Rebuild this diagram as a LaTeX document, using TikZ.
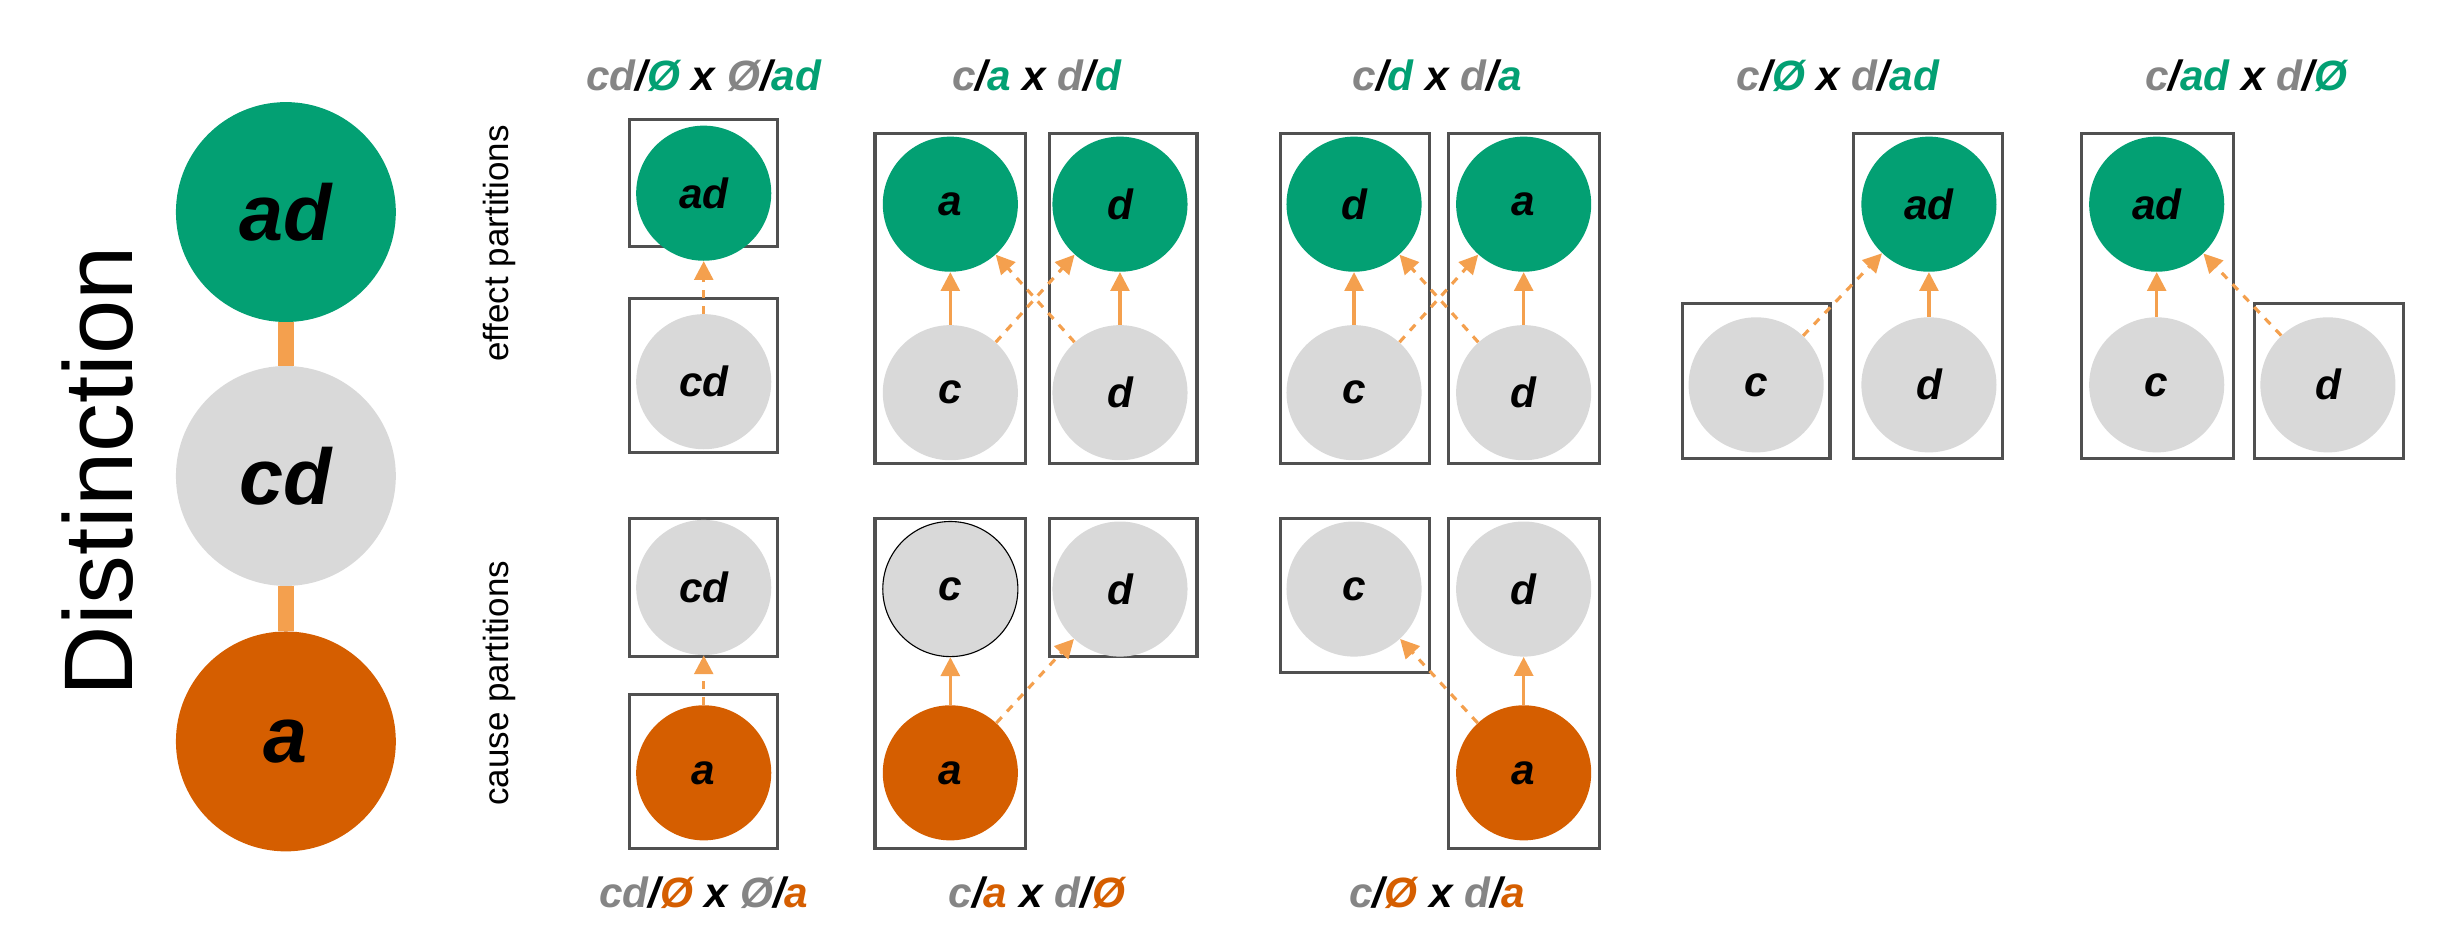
\documentclass[tikz,border=0pt]{standalone}
\usepackage{fontspec}
\setmainfont{Liberation Sans}
\usetikzlibrary{arrows.meta}
\definecolor{grn}{HTML}{03A073}
\definecolor{org}{HTML}{D55E00}
\definecolor{gry}{HTML}{D9D9D9}
\definecolor{arr}{HTML}{F4A04E}
\definecolor{tg}{HTML}{858585}
\definecolor{bx}{HTML}{505050}
\begin{document}
\begin{tikzpicture}[x=0.03cm,y=-0.03cm,
  c/.style={circle,minimum size=2.58cm,inner sep=0pt,font=\fontsize{23}{26}\selectfont\bfseries\itshape},
  big/.style={circle,minimum size=4.2cm,inner sep=0pt,font=\fontsize{43}{48}\selectfont\bfseries\itshape},
  G/.style={fill=grn}, O/.style={fill=org}, Y/.style={fill=gry},
  box/.style={draw=bx,line width=0.06cm},
  sol/.style={draw=arr,line width=0.06cm,-{Triangle[length=0.36cm,width=0.36cm]}},
  dsh/.style={sol,dash pattern=on 0.15cm off 0.15cm},
  ttl/.style={font=\fontsize{23}{26}\selectfont\bfseries\itshape},
  lab/.style={rotate=90,font=\fontsize{19}{22}\selectfont}]
\useasboundingbox (0,0) rectangle (1568,593);
% left distinction
\node[rotate=90,font=\fontsize{53}{58}\selectfont] (dist) at (62,300) {Distinction};
\node[big,G] (Lad) at (182,135) {ad};
\node[big,Y] (Lcd) at (182,303) {cd};
\node[big,O] (La) at (182,472) {a};
\draw[arr,line width=0.3cm] (Lad) -- (Lcd) (Lcd) -- (La);
\node[lab] (ep) at (318,155) {effect partitions};
\node[lab] (cp) at (318,435) {cause partitions};
% titles
\node[ttl] (t1) at (448,48) {\textcolor{tg}{cd}/\textcolor{grn}{Ø} x \textcolor{tg}{Ø}/\textcolor{grn}{ad}};
\node[ttl] (t2) at (660,48) {\textcolor{tg}{c}/\textcolor{grn}{a} x \textcolor{tg}{d}/\textcolor{grn}{d}};
\node[ttl] (t3) at (915,48) {\textcolor{tg}{c}/\textcolor{grn}{d} x \textcolor{tg}{d}/\textcolor{grn}{a}};
\node[ttl] (t4) at (1170,48) {\textcolor{tg}{c}/\textcolor{grn}{Ø} x \textcolor{tg}{d}/\textcolor{grn}{ad}};
\node[ttl] (t5) at (1430,48) {\textcolor{tg}{c}/\textcolor{grn}{ad} x \textcolor{tg}{d}/\textcolor{grn}{Ø}};
\node[ttl] (b1) at (448,568) {\textcolor{tg}{cd}/\textcolor{org}{Ø} x \textcolor{tg}{Ø}/\textcolor{org}{a}};
\node[ttl] (b2) at (660,568) {\textcolor{tg}{c}/\textcolor{org}{a} x \textcolor{tg}{d}/\textcolor{org}{Ø}};
\node[ttl] (b3) at (915,568) {\textcolor{tg}{c}/\textcolor{org}{Ø} x \textcolor{tg}{d}/\textcolor{org}{a}};
% panel A
\draw[box] (401,76) rectangle (495,157);
\draw[box] (401,190) rectangle (495,288);
\node[c,G] (A1) at (448,123) {ad};
\node[c,Y] (A2) at (448,243) {cd};
\draw[dsh] (A2) -- (A1);
\draw[box] (401,330) rectangle (495,418);
\draw[box] (401,442) rectangle (495,540);
\node[c,Y] (A3) at (448,374) {cd};
\node[c,O] (A4) at (448,492) {a};
\draw[dsh] (A4) -- (A3);
% panel B
\draw[box] (557,85) rectangle (653,295);
\draw[box] (668,85) rectangle (762,295);
\node[c,G] (B1) at (605,130) {a};
\node[c,Y] (B2) at (605,250) {c};
\node[c,G] (B3) at (713,130) {d};
\node[c,Y] (B4) at (713,250) {d};
\draw[sol] (B2) -- (B1); \draw[sol] (B4) -- (B3);
\draw[dsh] (B2) -- (B3); \draw[dsh] (B4) -- (B1);
\draw[box] (557,330) rectangle (653,540);
\draw[box] (668,330) rectangle (762,418);
\node[c,Y,draw=black,line width=0.6pt] (B5) at (605,375) {c};
\node[c,O] (B6) at (605,492) {a};
\node[c,Y] (B7) at (713,375) {d};
\draw[sol] (B6) -- (B5); \draw[dsh] (B6) -- (B7);
% panel C
\draw[box] (815,85) rectangle (910,295);
\draw[box] (922,85) rectangle (1018,295);
\node[c,G] (C1) at (862,130) {d};
\node[c,Y] (C2) at (862,250) {c};
\node[c,G] (C3) at (970,130) {a};
\node[c,Y] (C4) at (970,250) {d};
\draw[sol] (C2) -- (C1); \draw[sol] (C4) -- (C3);
\draw[dsh] (C2) -- (C3); \draw[dsh] (C4) -- (C1);
\draw[box] (815,330) rectangle (910,428);
\draw[box] (922,330) rectangle (1018,540);
\node[c,Y] (C5) at (862,375) {c};
\node[c,Y] (C6) at (970,375) {d};
\node[c,O] (C7) at (970,492) {a};
\draw[sol] (C7) -- (C6); \draw[dsh] (C7) -- (C5);
% panel D
\draw[box] (1071,193) rectangle (1165,292);
\draw[box] (1180,85) rectangle (1275,292);
\node[c,Y] (D1) at (1118,245) {c};
\node[c,G] (D2) at (1228,130) {ad};
\node[c,Y] (D3) at (1228,245) {d};
\draw[sol] (D3) -- (D2); \draw[dsh] (D1) -- (D2);
% panel E
\draw[box] (1325,85) rectangle (1422,292);
\draw[box] (1435,193) rectangle (1530,292);
\node[c,G] (E1) at (1373,130) {ad};
\node[c,Y] (E2) at (1373,245) {c};
\node[c,Y] (E3) at (1482,245) {d};
\draw[sol] (E2) -- (E1); \draw[dsh] (E3) -- (E1);
\end{tikzpicture}
\end{document}
